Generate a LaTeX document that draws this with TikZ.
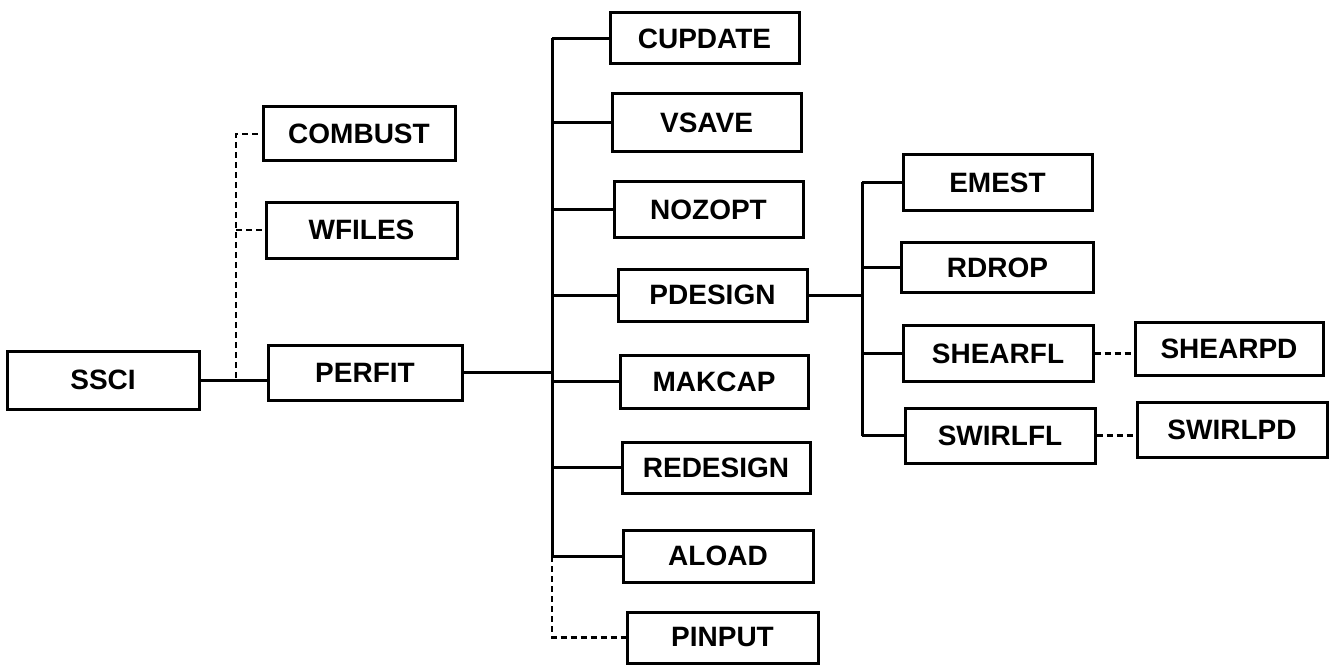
\documentclass[tikz,border=0pt]{standalone}
\usepackage{fontspec}
\setmainfont{Liberation Sans}
\begin{document}
\begin{tikzpicture}[x=1pt,y=-1pt,
  box/.style={draw, line width=3pt, inner sep=0pt, minimum width=190pt, minimum height=54pt,
    font=\fontsize{28}{30}\selectfont\bfseries},
  link/.style={line width=3pt},
  dlink/.style={line width=2.8pt, dash pattern=on 6pt off 4pt}]
\useasboundingbox (0,0) rectangle (1334,666);
% level 0/1
\node[box, minimum width=192pt, minimum height=58pt] (SSCI) at (103,380) {SSCI};
\node[box, minimum width=192pt] (COMBUST) at (359,134) {COMBUST};
\node[box, minimum width=191pt, minimum height=56pt] (WFILES) at (361.5,230) {WFILES};
\node[box, minimum width=194pt, minimum height=55pt] (PERFIT) at (365,372.5) {PERFIT};
% level 2
\node[box, minimum width=189pt, minimum height=51pt] (CUPDATE) at (704.5,38.5) {CUPDATE};
\node[box, minimum width=189pt, minimum height=58pt] (VSAVE) at (706.5,122.5) {VSAVE};
\node[box, minimum width=189pt, minimum height=55pt] (NOZOPT) at (708.5,209.5) {NOZOPT};
\node[box, minimum width=189pt, minimum height=52pt] (PDESIGN) at (712.5,295) {PDESIGN};
\node[box, minimum width=188pt, minimum height=53pt] (MAKCAP) at (714,381.5) {MAKCAP};
\node[box, minimum width=188pt, minimum height=51pt] (REDESIGN) at (716,467.5) {REDESIGN};
\node[box, minimum width=190pt, minimum height=52pt] (ALOAD) at (718,556) {ALOAD};
\node[box, minimum width=191pt, minimum height=51pt] (PINPUT) at (722.5,637.5) {PINPUT};
% level 3
\node[box, minimum width=189pt, minimum height=55pt] (EMEST) at (997.5,182.5) {EMEST};
\node[box, minimum width=192pt, minimum height=50pt] (RDROP) at (997.5,267.5) {RDROP};
\node[box, minimum width=190pt, minimum height=56pt] (SHEARFL) at (998,353.5) {SHEARFL};
\node[box, minimum width=190pt, minimum height=55pt] (SWIRLFL) at (1000,435.5) {SWIRLFL};
% level 4
\node[box, minimum width=188pt, minimum height=53pt] (SHEARPD) at (1229,348.5) {SHEARPD};
\node[box, minimum width=190pt, minimum height=55pt] (SWIRLPD) at (1232,429.5) {SWIRLPD};
% junction coordinates
\coordinate (j1) at (236,378);
\coordinate (t) at (552,0);
\coordinate (s) at (862,0);
% SSCI connectors
\draw[link] (SSCI.east) -- (SSCI.east -| PERFIT.west);
\draw[dlink] (j1) |- (COMBUST.west);
\draw[dlink] (j1 |- WFILES.west) -- (WFILES.west);
% PERFIT trunk
\draw[link] (PERFIT.east) -- (PERFIT.east -| t);
\draw[link] (t |- CUPDATE.west) -- (t |- ALOAD.west);
\draw[dlink] (t |- ALOAD.west) |- (PINPUT.west);
\foreach \n in {CUPDATE,VSAVE,NOZOPT,PDESIGN,MAKCAP,REDESIGN,ALOAD}
  \draw[link] (t |- \n.west) -- (\n.west);
% PDESIGN subtree
\draw[link] (PDESIGN.east) -- (PDESIGN.east -| s);
\draw[link] (s |- EMEST.west) -- (s |- SWIRLFL.west);
\foreach \n in {EMEST,RDROP,SHEARFL,SWIRLFL}
  \draw[link] (s |- \n.west) -- (\n.west);
% dashed to PD
\draw[dlink] (SHEARFL.east) -- (SHEARFL.east -| SHEARPD.west);
\draw[dlink] (SWIRLFL.east) -- (SWIRLFL.east -| SWIRLPD.west);
\end{tikzpicture}
\end{document}
